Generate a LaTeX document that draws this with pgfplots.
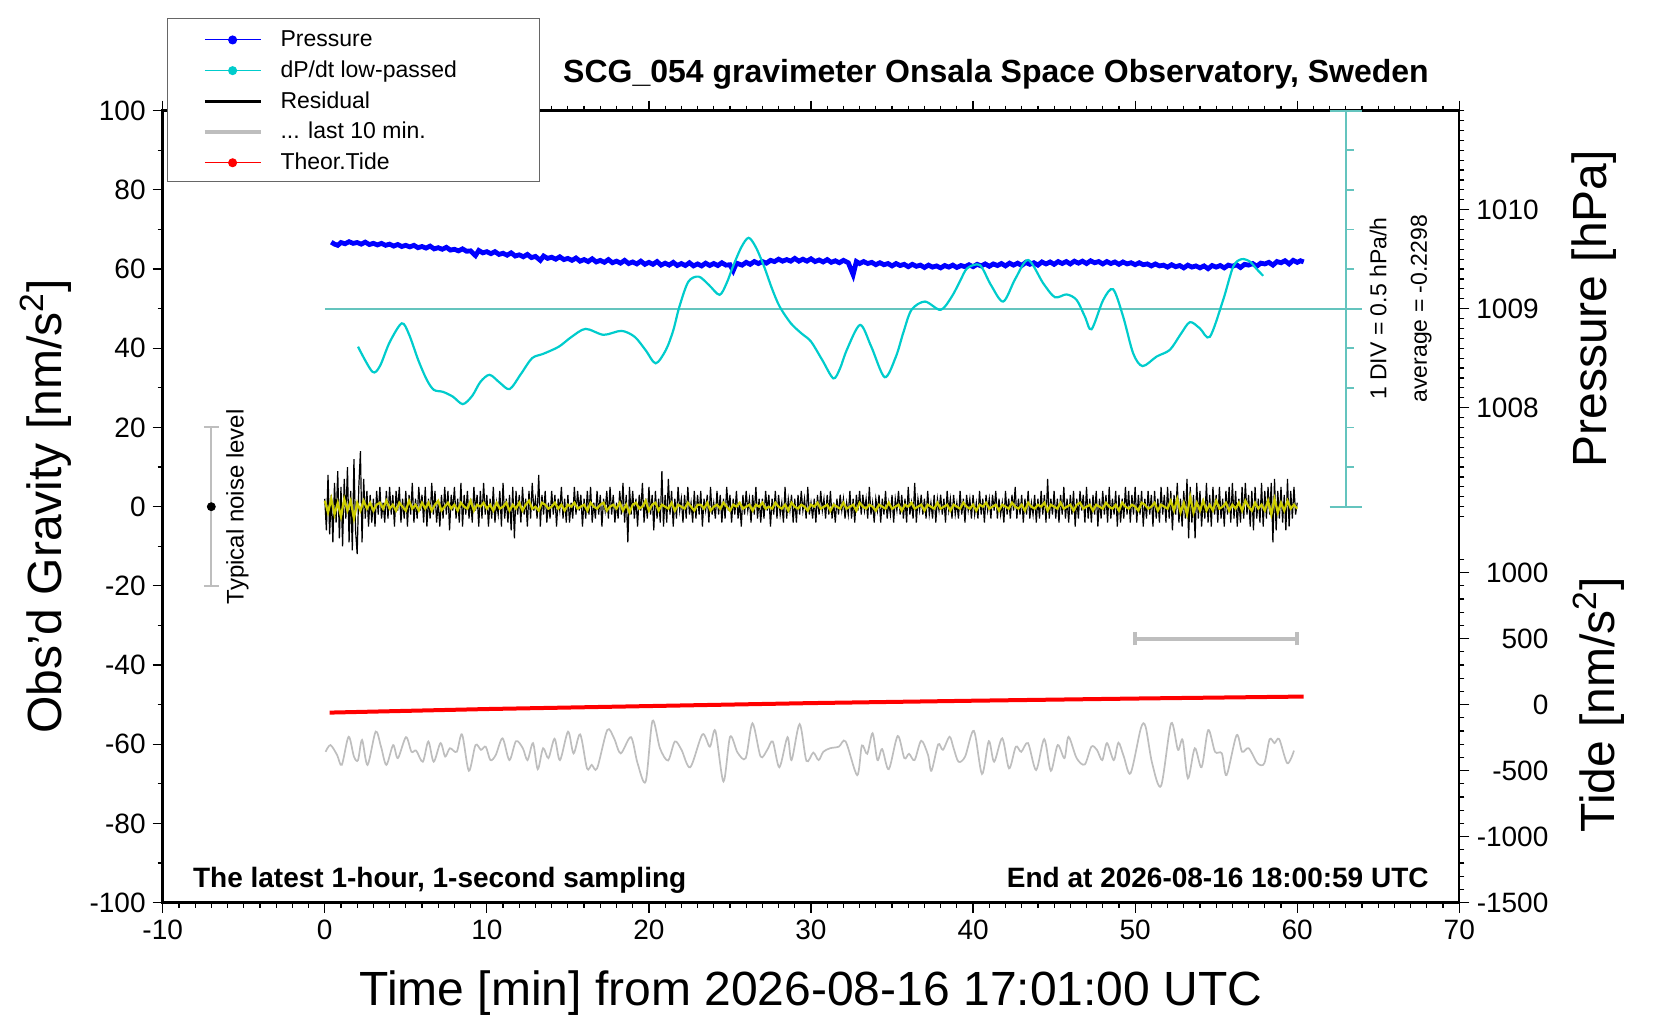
\documentclass[border=0pt]{standalone}
\usepackage{fontspec}
\setmainfont{Liberation Sans}
\usepackage{pgfplots}
\pgfplotsset{compat=1.18}
\definecolor{lgray}{RGB}{190,190,190}
\definecolor{cyanc}{RGB}{0,204,204}
\definecolor{cyanax}{RGB}{100,196,190}
\definecolor{yel}{RGB}{204,204,0}
\pgfplotsset{
 myframe/.style={at={(81.35pt,58.65pt)}, anchor=south west, scale only axis,
   width=648.3pt, height=396pt, xmin=-10, xmax=70,
   tick align=outside, major tick length=5pt, minor tick length=2.5pt,
   every tick/.style={black, line width=0.6pt},
   tick label style={font=\fontsize{14}{16}\selectfont}},
}
\begin{document}
\begin{tikzpicture}
\useasboundingbox (0,0) rectangle (830pt,510pt);
% pressure axis (right, upper half)
\begin{axis}[myframe, ymin=1003, ymax=1011, axis x line=none, axis y line*=right,
  y axis line style={draw=none},
  ytick={1008,1009,1010}, yticklabels={1008,1009,1010},
  minor ytick={1006.9,1007,1007.1,1007.2,1007.3,1007.4,1007.5,1007.6,1007.7,1007.8,1007.9,1008.1,1008.2,1008.3,1008.4,1008.5,1008.6,1008.7,1008.8,1008.9,1009.1,1009.2,1009.3,1009.4,1009.5,1009.6,1009.7,1009.8,1009.9,1010.1,1010.2,1010.3,1010.4,1010.5,1010.6,1010.7,1010.8,1010.9,1011}]
\end{axis}
% tide axis (right, lower half)
\begin{axis}[myframe, ymin=-1500, ymax=4500, axis x line=none, axis y line*=right,
  y axis line style={draw=none},
  ytick={-1500,-1000,-500,0,500,1000}, yticklabels={-1500,-1000,-500,0,500,1000},
  minor ytick={-1400,-1300,-1200,-1100,-900,-800,-700,-600,-400,-300,-200,-100,100,200,300,400,600,700,800,900,1100},
  yticklabel style={text width=36pt, align=right}]
\end{axis}
% main axis
\begin{axis}[myframe, ymin=-100, ymax=100, clip=false,
  axis line style={line width=1.2pt},
  xtick={-10,0,10,20,30,40,50,60,70}, xticklabels={-10,0,10,20,30,40,50,60,70},
  ytick={-100,-80,-60,-40,-20,0,20,40,60,80,100},
  yticklabels={-100,-80,-60,-40,-20,0,20,40,60,80,100},
  minor x tick num=9, minor y tick num=1,
  xtick pos=both, ytick pos=left,
  legend style={at={(0.0031,1.1167)}, anchor=north west, draw=black!60, line width=0.5pt,
    fill=white, inner xsep=0pt, inner ysep=2.375pt, row sep=0pt, column sep=0pt,
    nodes={inner sep=0pt}, font=\fontsize{11.5}{13}\selectfont},
  legend cell align=left,
  legend image code/.code={
    \path[draw=none, fill=none] (0pt,-7.125pt) rectangle (56.65pt,8.225pt);
    \draw[mark repeat=2, mark phase=2, #1] plot coordinates {(18.8pt,0pt) (32.7pt,0pt) (46.65pt,0pt)};
  },
]
\addlegendimage{blue, line width=0.5pt, mark=*, mark size=2pt}
\addlegendentry{\makebox[129.65pt][l]{Pressure}}
\addlegendimage{cyanc, line width=0.5pt, mark=*, mark size=2pt}
\addlegendentry{\makebox[129.65pt][l]{dP/dt low-passed}}
\addlegendimage{black, line width=1.5pt}
\addlegendentry{\makebox[129.65pt][l]{Residual}}
\addlegendimage{lgray, line width=2pt}
\addlegendentry{\makebox[129.65pt][l]{... last 10 min.}}
\addlegendimage{red, line width=0.5pt, mark=*, mark size=2pt}
\addlegendentry{\makebox[129.65pt][l]{Theor.Tide}}

% cyan dP/dt axis
\addplot[cyanax, line width=0.9pt, forget plot] coordinates {(63,0) (63,100)};
\addplot[cyanax, line width=0.9pt, forget plot] coordinates {(0,50) (64,50)};
\addplot[cyanax, line width=0.9pt, forget plot, unbounded coords=jump] coordinates {
(62,0) (64,0) (nan,nan) (62,100) (64,100) (nan,nan)
(63,10) (63.5,10) (nan,nan) (63,20) (63.5,20) (nan,nan) (63,30) (63.5,30) (nan,nan)
(63,40) (63.5,40) (nan,nan) (63,60) (63.5,60) (nan,nan) (63,70) (63.5,70) (nan,nan)
(63,80) (63.5,80) (nan,nan) (63,90) (63.5,90)};

% pressure
\addplot[blue, line width=2.4pt, forget plot] coordinates {
(0.4,66.8) (0.6,66.3) (0.8,66.0) (1.0,66.7) (1.25,66.4) (1.5,66.9) (1.75,66.5) (2.0,66.7) (2.25,66.3) (2.5,66.8)
(2.75,66.2) (3.0,66.5) (3.25,66.1) (3.5,66.5) (3.75,66.0) (4.0,66.3) (4.25,65.8) (4.5,66.2) (4.75,65.7) (5.0,66.0)
(5.25,65.6) (5.5,66.0) (5.75,65.4) (6.0,65.7) (6.25,65.3) (6.5,65.8) (6.75,65.1) (7.0,65.4) (7.25,65.0) (7.5,65.5)
(7.75,64.8) (8.0,65.0) (8.25,64.6) (8.5,65.1) (8.75,64.5) (9.0,64.6) (9.3,63.4) (9.5,64.7) (9.75,64.1) (10.0,64.4)
(10.25,63.9) (10.5,64.4) (10.75,63.7) (11.0,64.0) (11.25,63.5) (11.5,64.1) (11.75,63.3) (12.0,63.6) (12.25,63.1) (12.5,63.7)
(12.75,62.9) (13.0,63.2) (13.3,62.2) (13.5,63.3) (13.75,62.7) (14.0,63.0) (14.25,62.5) (14.5,63.1) (14.75,62.4) (15.0,62.7)
(15.25,62.2) (15.5,62.8) (15.75,62.0) (16.0,62.4) (16.25,61.9) (16.5,62.6) (16.75,61.8) (17.0,62.2) (17.25,61.7) (17.5,62.4)
(17.75,61.6) (18.0,62.0) (18.25,61.5) (18.5,62.2) (18.75,61.4) (19.0,61.8) (19.25,61.3) (19.5,62.0) (19.75,61.2) (20.0,61.7)
(20.25,61.2) (20.5,61.9) (20.75,61.0) (21.0,61.5) (21.25,61.0) (21.5,61.7) (21.75,60.9) (22.0,61.4) (22.25,60.9) (22.5,61.6)
(22.75,60.8) (23.0,61.3) (23.25,60.8) (23.5,61.5) (23.75,60.9) (24.0,61.4) (24.25,60.9) (24.5,61.6) (24.75,61.0) (25.0,61.1)
(25.2,59.6) (25.4,61.5) (25.75,61.0) (26.0,61.7) (26.25,61.2) (26.5,61.9) (26.75,61.4) (27.0,61.9) (27.25,61.5) (27.5,62.2)
(27.75,61.9) (28.0,62.5) (28.25,62.0) (28.5,62.4) (28.75,62.0) (29.0,62.7) (29.25,62.0) (29.5,62.5) (29.75,62.0) (30.0,62.6)
(30.25,61.9) (30.5,62.3) (30.75,61.8) (31.0,62.4) (31.25,61.7) (31.5,62.1) (31.75,61.6) (32.0,62.2) (32.3,61.6) (32.6,58.6)
(32.8,61.9) (33.0,61.4) (33.25,61.9) (33.5,61.4) (33.75,61.7) (34.0,61.1) (34.25,61.6) (34.5,61.1) (34.75,61.4) (35.0,60.8)
(35.25,61.4) (35.5,60.9) (35.75,61.2) (36.0,60.6) (36.25,61.2) (36.5,60.7) (36.75,61.0) (37.0,60.4) (37.25,61.0) (37.5,60.5)
(37.75,60.8) (38.0,60.3) (38.25,60.9) (38.5,60.5) (38.75,61.0) (39.0,60.4) (39.25,60.9) (39.5,60.6) (39.75,61.1) (40.0,60.6)
(40.25,61.2) (40.5,60.8) (40.75,61.3) (41.0,60.7) (41.25,61.3) (41.5,60.9) (41.75,61.4) (42.0,60.8) (42.25,61.5) (42.5,61.0)
(42.75,61.5) (43.0,60.9) (43.25,61.7) (43.5,61.2) (43.75,61.6) (44.0,61.0) (44.25,61.8) (44.5,61.3) (44.75,61.8) (45.0,61.2)
(45.25,61.9) (45.5,61.4) (45.75,61.9) (46.0,61.3) (46.25,62.0) (46.5,61.5) (46.75,62.0) (47.0,61.4) (47.25,62.1) (47.5,61.6)
(47.75,61.9) (48.0,61.3) (48.25,61.9) (48.5,61.4) (48.75,61.8) (49.0,61.2) (49.25,61.8) (49.5,61.3) (49.75,61.6) (50.0,61.1)
(50.25,61.6) (50.5,61.1) (50.75,61.3) (51.0,60.8) (51.25,61.3) (51.5,60.8) (51.75,61.0) (52.0,60.5) (52.25,61.1) (52.5,60.6)
(52.75,60.9) (53.0,60.3) (53.25,61.0) (53.5,60.5) (53.75,60.8) (54.0,60.3) (54.25,60.8) (54.5,60.1) (54.75,60.9) (55.0,60.5)
(55.25,60.9) (55.5,60.3) (55.75,61.0) (56.0,60.7) (56.25,61.1) (56.5,60.4) (56.75,61.2) (57.0,61.0) (57.25,61.4) (57.5,60.7)
(57.75,61.5) (58.0,61.3) (58.25,61.7) (58.5,61.0) (58.75,61.9) (59.0,61.6) (59.25,62.1) (59.5,61.3) (59.75,62.2) (60.0,61.7)
(60.2,62.1) (60.4,61.8)};

% dP/dt low-passed
\addplot[cyanc, line width=1.1pt, smooth, forget plot] coordinates {
(2.05,40.4) (2.93,34.1) (3.4,35.5) (4.0,41.5) (4.75,46.3) (5.2,43.5) (5.77,37.0) (6.3,32.0) (6.73,29.5) (7.29,29.0)
(7.9,27.8) (8.52,25.9) (9.1,28.0) (9.6,31.5) (10.17,33.3) (10.8,31.3) (11.41,29.7) (12.1,33.5) (12.79,37.5) (13.48,38.6)
(14.44,40.4) (15.2,42.8) (16.09,44.9) (17.2,43.4) (18.3,44.4) (19.12,42.9) (19.8,39.5) (20.42,36.2) (21.05,39.6) (21.5,44.5)
(21.88,50.5) (22.43,56.8) (23.07,58.1) (23.7,56.0) (24.36,53.5) (24.8,56.5) (25.18,60.6) (25.7,65.5) (26.15,67.9) (26.6,65.5)
(27.11,60.6) (27.6,55.0) (28.07,50.5) (28.76,46.3) (29.4,43.8) (30.0,41.7) (30.7,37.0) (31.38,32.4) (31.8,35.0) (32.21,39.6)
(33.03,45.9) (33.72,40.4) (34.55,32.7) (35.24,37.9) (35.7,44.0) (36.2,49.7) (37.03,51.8) (38.0,49.7) (38.68,53.0) (39.2,57.0)
(39.64,60.2) (40.42,61.0) (41.1,56.0) (41.86,51.8) (42.6,57.5) (43.4,62.3) (44.33,56.4) (45.05,52.9) (45.77,53.6) (46.39,52.2)
(46.9,48.0) (47.31,44.8) (48.03,52.2) (48.64,54.9) (49.26,48.0) (49.88,38.7) (50.46,35.5) (51.32,37.9) (52.14,39.6) (52.8,43.5)
(53.38,46.6) (54.0,45.0) (54.61,42.9) (55.43,52.2) (56.05,60.6) (56.56,62.5) (57.08,61.9) (57.5,60.0) (57.9,58.3)};

% residual
\addplot[black, line width=0.6pt, forget plot] coordinates {
(0.0,2) (0.1,-6) (0.2,8) (0.3,-7) (0.4,3) (0.5,-9) (0.6,6) (0.7,-4) (0.8,9) (0.9,-8)
(1.0,5) (1.1,-10) (1.2,7) (1.3,-3) (1.4,10) (1.5,-9) (1.6,4) (1.7,-11) (1.8,12) (1.9,-6)
(2.0,-12) (2.1,5) (2.2,14) (2.3,-9) (2.4,7) (2.5,-3) (2.6,4) (2.7,-5) (2.8,3) (2.9,-4)
(3.0,2) (3.1,-5) (3.2,4) (3.3,-2) (3.4,5) (3.5,-3) (3.6,1) (3.7,-4) (3.8,4) (3.9,-3)
(4.0,5) (4.1,-2) (4.2,3) (4.3,-5) (4.4,4) (4.5,-1) (4.6,5) (4.7,-4) (4.8,2) (4.9,-3)
(5.0,4) (5.1,-5) (5.2,3) (5.3,-2) (5.4,6) (5.5,-4) (5.6,2) (5.7,-3) (5.8,5) (5.9,-1)
(6.0,3) (6.1,-4) (6.2,5) (6.3,-5) (6.4,2) (6.5,-3) (6.6,6) (6.7,-2) (6.8,4) (6.9,-4)
(7.0,1) (7.1,-5) (7.2,3) (7.3,-3) (7.4,5) (7.5,-2) (7.6,4) (7.7,-6) (7.8,3) (7.9,-1)
(8.0,5) (8.1,-3) (8.2,2) (8.3,-4) (8.4,6) (8.5,-5) (8.6,3) (8.7,-2) (8.8,4) (8.9,-3)
(9.0,2) (9.1,-4) (9.2,5) (9.3,-1) (9.4,3) (9.5,-5) (9.6,4) (9.7,-3) (9.8,6) (9.9,-2)
(10.0,3) (10.1,-5) (10.2,2) (10.3,-3) (10.4,5) (10.5,-4) (10.6,1) (10.7,-2) (10.8,4) (10.9,-5)
(11.0,6) (11.1,-3) (11.2,2) (11.3,-4) (11.4,3) (11.5,-6) (11.6,5) (11.7,-8) (11.8,4) (11.9,-2)
(12.0,3) (12.1,-4) (12.2,5) (12.3,-2) (12.4,2) (12.5,-5) (12.6,4) (12.7,-3) (12.8,6) (12.9,-1)
(13.0,2) (13.1,-3) (13.2,8) (13.3,-5) (13.4,3) (13.5,-2) (13.6,4) (13.7,-4) (13.8,1) (13.9,-3)
(14.0,4) (14.1,-2) (14.2,3) (14.3,-5) (14.4,2) (14.5,-1) (14.6,5) (14.7,-3) (14.8,2) (14.9,-4)
(15.0,3) (15.1,-4) (15.2,1) (15.3,-3) (15.4,5) (15.5,-2) (15.6,4) (15.7,-1) (15.8,3) (15.9,-5)
(16.0,2) (16.1,-3) (16.2,4) (16.3,-2) (16.4,5) (16.5,-4) (16.6,1) (16.7,-3) (16.8,4) (16.9,-2)
(17.0,3) (17.1,-5) (17.2,2) (17.3,-1) (17.4,4) (17.5,-3) (17.6,5) (17.7,-2) (17.8,3) (17.9,-4)
(18.0,1) (18.1,-3) (18.2,4) (18.3,-2) (18.4,6) (18.5,-4) (18.6,3) (18.7,-9) (18.8,5) (18.9,-2)
(19.0,4) (19.1,-3) (19.2,2) (19.3,-5) (19.4,3) (19.5,-1) (19.6,6) (19.7,-4) (19.8,2) (19.9,-3)
(20.0,5) (20.1,-2) (20.2,3) (20.3,-6) (20.4,4) (20.5,-3) (20.6,2) (20.7,-4) (20.8,9) (20.9,-5)
(21.0,3) (21.1,-4) (21.2,7) (21.3,-2) (21.4,4) (21.5,-5) (21.6,2) (21.7,-3) (21.8,5) (21.9,-1)
(22.0,2) (22.1,-4) (22.2,3) (22.3,-3) (22.4,5) (22.5,-2) (22.6,1) (22.7,-4) (22.8,4) (22.9,-3)
(23.0,3) (23.1,-2) (23.2,4) (23.3,-5) (23.4,2) (23.5,-1) (23.6,3) (23.7,-4) (23.8,5) (23.9,-2)
(24.0,1) (24.1,-3) (24.2,4) (24.3,-2) (24.4,3) (24.5,-4) (24.6,2) (24.7,-3) (24.8,5) (24.9,-1)
(25.0,3) (25.1,-4) (25.2,2) (25.3,-2) (25.4,4) (25.5,-3) (25.6,1) (25.7,-5) (25.8,3) (25.9,-2)
(26.0,4) (26.1,-1) (26.2,2) (26.3,-4) (26.4,3) (26.5,-2) (26.6,5) (26.7,-3) (26.8,2) (26.9,-4)
(27.0,2) (27.1,-3) (27.2,4) (27.3,-1) (27.4,3) (27.5,-5) (27.6,2) (27.7,-2) (27.8,4) (27.9,-3)
(28.0,3) (28.1,-2) (28.2,1) (28.3,-4) (28.4,5) (28.5,-3) (28.6,2) (28.7,-1) (28.8,3) (28.9,-4)
(29.0,2) (29.1,-4) (29.2,3) (29.3,-2) (29.4,4) (29.5,-1) (29.6,2) (29.7,-3) (29.8,5) (29.9,-2)
(30.0,1) (30.1,-3) (30.2,2) (30.3,-4) (30.4,3) (30.5,-2) (30.6,4) (30.7,-1) (30.8,2) (30.9,-3)
(31.0,3) (31.1,-2) (31.2,4) (31.3,-3) (31.4,1) (31.5,-4) (31.6,2) (31.7,-2) (31.8,3) (31.9,-1)
(32.0,2) (32.1,-3) (32.2,1) (32.3,-2) (32.4,4) (32.5,-3) (32.6,2) (32.7,-4) (32.8,3) (32.9,-1)
(33.0,4) (33.1,-2) (33.2,3) (33.3,-1) (33.4,2) (33.5,-3) (33.6,5) (33.7,-2) (33.8,1) (33.9,-4)
(34.0,2) (34.1,-1) (34.2,3) (34.3,-4) (34.4,2) (34.5,-2) (34.6,4) (34.7,-3) (34.8,1) (34.9,-2)
(35.0,3) (35.1,-4) (35.2,2) (35.3,-1) (35.4,4) (35.5,-2) (35.6,3) (35.7,-3) (35.8,2) (35.9,-4)
(36.0,5) (36.1,-2) (36.2,1) (36.3,-3) (36.4,6) (36.5,-4) (36.6,2) (36.7,-1) (36.8,3) (36.9,-2)
(37.0,2) (37.1,-3) (37.2,4) (37.3,-2) (37.4,1) (37.5,-3) (37.6,3) (37.7,-4) (37.8,2) (37.9,-1)
(38.0,3) (38.1,-2) (38.2,2) (38.3,-4) (38.4,4) (38.5,-1) (38.6,2) (38.7,-3) (38.8,3) (38.9,-2)
(39.0,1) (39.1,-3) (39.2,4) (39.3,-2) (39.4,2) (39.5,-4) (39.6,3) (39.7,-1) (39.8,2) (39.9,-3)
(40.0,3) (40.1,-2) (40.2,1) (40.3,-3) (40.4,4) (40.5,-2) (40.6,2) (40.7,-4) (40.8,3) (40.9,-1)
(41.0,2) (41.1,-3) (41.2,3) (41.3,-1) (41.4,4) (41.5,-3) (41.6,2) (41.7,-2) (41.8,1) (41.9,-4)
(42.0,4) (42.1,-2) (42.2,2) (42.3,-3) (42.4,3) (42.5,-1) (42.6,5) (42.7,-3) (42.8,2) (42.9,-2)
(43.0,3) (43.1,-4) (43.2,2) (43.3,-2) (43.4,4) (43.5,-3) (43.6,1) (43.7,-2) (43.8,3) (43.9,-4)
(44.0,2) (44.1,-3) (44.2,4) (44.3,-2) (44.4,3) (44.5,-4) (44.6,7) (44.7,-3) (44.8,2) (44.9,-2)
(45.0,4) (45.1,-3) (45.2,2) (45.3,-4) (45.4,3) (45.5,-2) (45.6,5) (45.7,-3) (45.8,2) (45.9,-4)
(46.0,3) (46.1,-2) (46.2,4) (46.3,-5) (46.4,2) (46.5,-3) (46.6,4) (46.7,-1) (46.8,3) (46.9,-4)
(47.0,5) (47.1,-3) (47.2,2) (47.3,-4) (47.4,3) (47.5,-2) (47.6,4) (47.7,-5) (47.8,2) (47.9,-3)
(48.0,4) (48.1,-2) (48.2,3) (48.3,-4) (48.4,5) (48.5,-3) (48.6,2) (48.7,-2) (48.8,4) (48.9,-5)
(49.0,3) (49.1,-4) (49.2,2) (49.3,-3) (49.4,5) (49.5,-2) (49.6,4) (49.7,-4) (49.8,3) (49.9,-2)
(50.0,5) (50.1,-4) (50.2,3) (50.3,-2) (50.4,4) (50.5,-5) (50.6,2) (50.7,-3) (50.8,4) (50.9,-2)
(51.0,3) (51.1,-5) (51.2,4) (51.3,-3) (51.4,2) (51.5,-4) (51.6,5) (51.7,-2) (51.8,3) (51.9,-4)
(52.0,5) (52.1,-3) (52.2,4) (52.3,-6) (52.4,3) (52.5,-2) (52.6,6) (52.7,-4) (52.8,2) (52.9,-5)
(53.0,4) (53.1,-3) (53.2,7) (53.3,-8) (53.4,5) (53.5,-4) (53.6,3) (53.7,-8) (53.8,6) (53.9,-3)
(54.0,4) (54.1,-5) (54.2,2) (54.3,-3) (54.4,6) (54.5,-4) (54.6,3) (54.7,-5) (54.8,5) (54.9,-2)
(55.0,3) (55.1,-4) (55.2,5) (55.3,-3) (55.4,2) (55.5,-5) (55.6,4) (55.7,-2) (55.8,5) (55.9,-4)
(56.0,6) (56.1,-3) (56.2,4) (56.3,-5) (56.4,2) (56.5,-4) (56.6,5) (56.7,-3) (56.8,6) (56.9,-2)
(57.0,3) (57.1,-5) (57.2,4) (57.3,-6) (57.4,5) (57.5,-3) (57.6,2) (57.7,-4) (57.8,6) (57.9,-5)
(58.0,4) (58.1,-3) (58.2,5) (58.3,-2) (58.4,6) (58.5,-9) (58.6,7) (58.7,-6) (58.8,4) (58.9,-3)
(59.0,5) (59.1,-4) (59.2,3) (59.3,-6) (59.4,7) (59.5,-5) (59.6,4) (59.7,-3) (59.8,5) (59.9,-2)
(60.0,1)};

% smoothed residual (yellow)
\addplot[yel, line width=1.1pt, forget plot] coordinates {
(0.0,1.5) (0.2,-1.5) (0.4,2) (0.6,-2) (0.8,1) (1.0,-2.5) (1.2,2) (1.4,-1) (1.6,1.5) (1.8,-3) (2.0,1)
(2.2,-1) (2.4,1.5) (2.6,-0.5) (2.8,1) (3.0,-1) (3.2,0.5) (3.4,1) (3.6,-0.5) (3.8,1.5) (4.0,-0.5)
(4.2,0.5) (4.4,-1) (4.6,1) (4.8,0) (5.0,-1) (5.2,1.5) (5.4,-0.5) (5.6,0.5) (5.8,-1) (6.0,1)
(6.2,-0.5) (6.4,1) (6.6,-1) (6.8,0.5) (7.0,1.5) (7.2,-1) (7.4,0) (7.6,1) (7.8,-0.5) (8.0,0.5)
(8.2,-1) (8.4,1) (8.6,0) (8.8,-0.5) (9.0,1.5) (9.2,-1) (9.4,0.5) (9.6,0) (9.8,1) (10.0,-0.5)
(10.2,0.5) (10.4,-1) (10.6,1) (10.8,-0.5) (11.0,0) (11.2,1) (11.4,-1) (11.6,0.5) (11.8,-0.5) (12.0,1)
(12.2,-1) (12.4,0.5) (12.6,1.5) (12.8,-0.5) (13.0,0) (13.2,-1) (13.4,1) (13.6,0.5) (13.8,-0.5) (14.0,0)
(14.2,1) (14.4,-0.5) (14.6,0.5) (14.8,-1) (15.0,0.5) (15.2,0) (15.4,1) (15.6,-0.5) (15.8,0) (16.0,0.5)
(16.2,-1) (16.4,1) (16.6,0) (16.8,-0.5) (17.0,0.5) (17.2,1) (17.4,-1) (17.6,0) (17.8,0.5) (18.0,-0.5)
(18.2,1) (18.4,-1) (18.6,0.5) (18.8,-1.5) (19.0,0.5) (19.2,1) (19.4,-0.5) (19.6,0) (19.8,1.5) (20.0,-1)
(20.2,0.5) (20.4,1) (20.6,-1) (20.8,0.5) (21.0,0) (21.2,-0.5) (21.4,1) (21.6,-1) (21.8,0.5) (22.0,0)
(22.2,-0.5) (22.4,1) (22.6,0) (22.8,-1) (23.0,0.5) (23.2,0.5) (23.4,-0.5) (23.6,1) (23.8,-1) (24.0,0)
(24.2,0.5) (24.4,-0.5) (24.6,1) (24.8,0) (25.0,-1) (25.2,0.5) (25.4,0) (25.6,1) (25.8,-0.5) (26.0,0)
(26.2,0.5) (26.4,-1) (26.6,0.5) (26.8,0) (27.0,1) (27.2,-0.5) (27.4,0) (27.6,-0.5) (27.8,1) (28.0,0)
(28.2,-0.5) (28.4,0.5) (28.6,-1) (28.8,1) (29.0,0) (29.2,-0.5) (29.4,0.5) (29.6,0) (29.8,-1) (30.0,0.5)
(30.2,0) (30.4,1) (30.6,-0.5) (30.8,0) (31.0,0.5) (31.2,-1) (31.4,0.5) (31.6,0) (31.8,-0.5) (32.0,1)
(32.2,-0.5) (32.4,0) (32.6,0.5) (32.8,-1) (33.0,1) (33.2,0) (33.4,-0.5) (33.6,0.5) (33.8,0) (34.0,-1)
(34.2,0.5) (34.4,0) (34.6,-0.5) (34.8,1) (35.0,-0.5) (35.2,0) (35.4,0.5) (35.6,-1) (35.8,0.5) (36.0,0)
(36.2,1) (36.4,-0.5) (36.6,0) (36.8,0.5) (37.0,-1) (37.2,0.5) (37.4,0) (37.6,-0.5) (37.8,1) (38.0,-0.5)
(38.2,0) (38.4,0.5) (38.6,-1) (38.8,0.5) (39.0,0) (39.2,-0.5) (39.4,1) (39.6,0) (39.8,-0.5) (40.0,0.5)
(40.2,-1) (40.4,0.5) (40.6,0) (40.8,1) (41.0,-0.5) (41.2,0) (41.4,0.5) (41.6,-1) (41.8,0.5) (42.0,0)
(42.2,-0.5) (42.4,1) (42.6,0) (42.8,-0.5) (43.0,0.5) (43.2,-1) (43.4,1) (43.6,0) (43.8,-0.5) (44.0,0.5)
(44.2,0) (44.4,1) (44.6,-1) (44.8,0.5) (45.0,0) (45.2,-0.5) (45.4,1) (45.6,-0.5) (45.8,0) (46.0,0.5)
(46.2,-1) (46.4,0.5) (46.6,1) (46.8,-0.5) (47.0,0) (47.2,0.5) (47.4,-1) (47.6,0.5) (47.8,0) (48.0,-0.5)
(48.2,1) (48.4,0) (48.6,-0.5) (48.8,0.5) (49.0,-1) (49.2,1) (49.4,0) (49.6,-0.5) (49.8,0.5) (50.0,0)
(50.2,-1) (50.4,1) (50.6,0.5) (50.8,-0.5) (51.0,0) (51.2,1) (51.4,-1) (51.6,0.5) (51.8,0) (52.0,-0.5)
(52.2,1.5) (52.4,-1) (52.6,2) (52.8,-1.5) (53.0,1) (53.2,-2) (53.4,2.5) (53.6,-1.5) (53.8,1) (54.0,-1)
(54.2,1.5) (54.4,-1) (54.6,0.5) (54.8,-1) (55.0,1.5) (55.2,-0.5) (55.4,0) (55.6,1) (55.8,-1) (56.0,0.5)
(56.2,-0.5) (56.4,1) (56.6,-1) (56.8,1.5) (57.0,0) (57.2,-1) (57.4,1) (57.6,-0.5) (57.8,0.5) (58.0,-1)
(58.2,1.5) (58.4,-2) (58.6,2) (58.8,-1.5) (59.0,1) (59.2,-1) (59.4,1.5) (59.6,-0.5) (59.8,0.5) (60.0,-0.5)};

% theoretical tide (in left-axis units)
\addplot[red, line width=2pt, forget plot] coordinates {
(0.3,-52.0) (10,-51.1) (20,-50.35) (30,-49.6) (40,-49.0) (50,-48.45) (60.4,-47.95)};

% last 10 min
\addplot[lgray, line width=0.85pt, smooth, forget plot] coordinates {
(0.05,-61.9) (0.35,-60.2) (0.76,-62.7) (1.05,-65.2) (1.47,-58.1) (1.80,-63.1) (2.05,-64.0) (2.30,-58.9) (2.64,-65.2) (3.14,-56.8)
(3.47,-60.6) (3.80,-65.2) (4.22,-60.2) (4.51,-63.5) (5.01,-58.2) (5.35,-61.9) (5.64,-61.6) (6.05,-64.4) (6.39,-59.3) (6.72,-64.4)
(7.14,-59.7) (7.43,-63.1) (7.72,-61.0) (8.14,-61.9) (8.47,-57.5) (8.89,-66.7) (9.30,-60.2) (9.64,-61.4) (9.93,-60.6) (10.22,-64.0)
(10.55,-62.7) (10.97,-58.5) (11.39,-64.0) (11.80,-59.2) (12.22,-61.0) (12.51,-64.0) (12.85,-59.7) (13.14,-66.3) (13.47,-61.0) (13.80,-63.5)
(14.18,-58.6) (14.51,-64.0) (15.01,-56.8) (15.35,-62.3) (15.76,-57.5) (16.18,-66.1) (16.47,-65.2) (16.80,-66.1) (17.43,-56.4) (17.85,-58.5)
(18.26,-62.3) (18.89,-58.2) (19.30,-64.8) (19.80,-69.4) (20.22,-54.1) (20.68,-61.0) (21.18,-64.1) (21.60,-59.3) (22.01,-61.4) (22.55,-65.8)
(23.30,-57.5) (23.76,-60.6) (24.10,-56.6) (24.60,-69.4) (25.01,-58.1) (25.47,-62.1) (25.97,-63.5) (26.39,-54.7) (26.89,-63.1) (27.30,-61.4)
(27.64,-59.3) (28.05,-65.8) (28.55,-58.2) (28.80,-64.0) (29.30,-54.9) (29.72,-64.2) (30.14,-62.1) (30.47,-64.0) (30.76,-61.9) (31.18,-61.0)
(31.72,-60.6) (32.14,-59.3) (32.85,-67.8) (33.14,-60.3) (33.47,-62.4) (33.80,-57.2) (34.10,-64.0) (34.39,-61.2) (34.80,-66.3) (35.35,-57.9)
(35.76,-63.5) (36.05,-62.4) (36.39,-64.0) (36.80,-59.1) (37.22,-62.7) (37.43,-66.7) (37.85,-60.0) (38.14,-61.4) (38.55,-58.1) (38.80,-61.0)
(39.10,-64.4) (39.51,-63.1) (40.05,-56.6) (40.55,-67.5) (40.97,-59.2) (41.30,-64.4) (41.80,-58.5) (42.22,-66.1) (42.64,-60.6) (42.97,-61.9)
(43.39,-59.7) (43.89,-66.5) (44.39,-58.7) (44.80,-66.7) (45.22,-60.2) (45.64,-63.5) (45.89,-58.1) (46.39,-63.5) (46.89,-65.1) (47.30,-60.6)
(47.64,-61.4) (47.97,-64.0) (48.26,-59.7) (48.68,-64.0) (48.97,-59.6) (49.30,-63.1) (49.72,-67.3) (50.35,-56.0) (50.64,-55.5) (51.05,-64.8)
(51.60,-70.5) (52.22,-54.7) (52.64,-61.4) (52.93,-58.9) (53.26,-68.6) (53.68,-61.0) (54.10,-65.8) (54.51,-56.4) (54.93,-61.9) (55.35,-62.3)
(55.64,-67.8) (56.26,-57.7) (56.60,-61.9) (57.01,-61.0) (57.55,-64.8) (57.97,-64.8) (58.30,-58.7) (58.60,-59.7) (58.89,-58.7) (59.39,-64.8)
(59.80,-61.6)};

% 10-minute bar
\addplot[lgray, line width=2pt, forget plot] coordinates {(50,-33.33) (60,-33.33)};
\addplot[lgray, line width=2pt, forget plot] coordinates {(50,-35.0) (50,-31.6)};
\addplot[lgray, line width=2pt, forget plot] coordinates {(60,-35.0) (60,-31.6)};

% typical noise level
\addplot[lgray, line width=1pt, forget plot] coordinates {(-7,-20) (-7,20)};
\addplot[lgray, line width=1pt, forget plot] coordinates {(-7.46,20) (-6.54,20)};
\addplot[lgray, line width=1pt, forget plot] coordinates {(-7.46,-20) (-6.54,-20)};
\addplot[black, only marks, mark=*, mark size=2pt, forget plot] coordinates {(-7,0)};
\node[rotate=90, anchor=base, inner sep=0pt, font=\fontsize{12}{14}\selectfont] at (axis cs:-5.0,0) {Typical noise level};

% texts
\node[rotate=90, anchor=base, inner sep=0pt, font=\fontsize{11.5}{13}\selectfont] at (axis cs:65.5,50) {1 DIV = 0.5 hPa/h};
\node[rotate=90, anchor=base, inner sep=0pt, font=\fontsize{11.5}{13}\selectfont] at (axis cs:68.0,50) {average = -0.2298};
\node[anchor=base, inner sep=0pt, font=\bfseries\fontsize{16}{19}\selectfont] at (rel axis cs:0.6427,1.0355) {SCG\_054 gravimeter Onsala Space Observatory, Sweden};
\node[anchor=base west, inner sep=0pt, font=\bfseries\fontsize{14}{16}\selectfont] at (rel axis cs:0.0231,0.0198) {The latest 1-hour, 1-second sampling};
\node[anchor=base east, inner sep=0pt, font=\bfseries\fontsize{14}{16}\selectfont] at (rel axis cs:0.9767,0.0198) {End at 2026-08-16 18:00:59 UTC};
\node[anchor=base, inner sep=0pt, font=\fontsize{24}{28}\selectfont] at (rel axis cs:0.5,-0.130) {Time [min] from 2026-08-16 17:01:00 UTC};
\node[rotate=90, anchor=base, inner sep=0pt, font=\fontsize{24}{28}\selectfont] at (rel axis cs:-0.078,0.5) {Obs’d Gravity [nm/s\textsuperscript{2}]};
\node[rotate=90, anchor=base, inner sep=0pt, font=\fontsize{24}{28}\selectfont] at (rel axis cs:1.1139,0.75) {Pressure [hPa]};
\node[rotate=90, anchor=base, inner sep=0pt, font=\fontsize{24}{28}\selectfont] at (rel axis cs:1.1194,0.25) {Tide [nm/s\textsuperscript{2}]};
\end{axis}
\end{tikzpicture}
\end{document}
